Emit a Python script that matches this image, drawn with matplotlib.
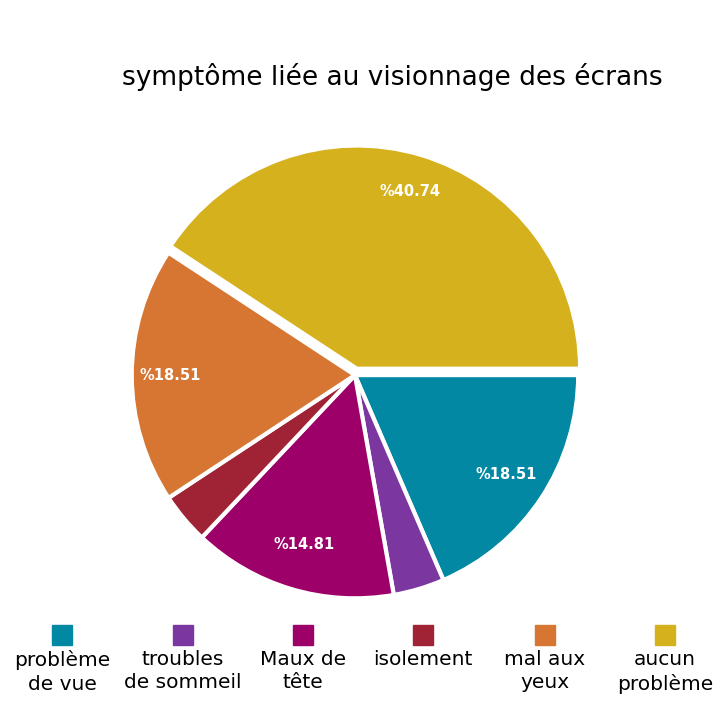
import matplotlib
matplotlib.use("Agg")
import matplotlib.pyplot as plt
from matplotlib.patches import Rectangle
import numpy as np

plt.rcParams['font.family'] = ['DejaVu Sans']

categories = ["problème\nde vue", "troubles\nde sommeil", "Maux de\ntête",
              "isolement", "mal aux\nyeux", "aucun\nproblème"]
values = [18.51, 3.70, 14.81, 3.70, 18.51, 40.74]
pct_labels = ["%18.51", "", "%14.81", "", "%18.51", "%40.74"]
colors = ["#0288A3", "#7B36A0", "#9D0068", "#A02235", "#D67632", "#D6B11E"]
explode = [0, 0, 0, 0, 0, 0.03]

fig = plt.figure(figsize=(7.2, 7.2), dpi=100)
ax = fig.add_axes([0.493 - 0.31, 0.479 - 0.31, 0.62, 0.62])

wedges, texts = ax.pie(values, colors=colors, startangle=0, counterclock=False,
                       explode=explode,
                       wedgeprops=dict(edgecolor='white', linewidth=3))

# percent labels, only on the big slices
for w, lab, dist in zip(wedges, pct_labels, [0.81, 0, 0.79, 0, 0.83, 0.83]):
    if not lab:
        continue
    ang = np.deg2rad((w.theta1 + w.theta2) / 2)
    cx, cy = w.center
    ax.text(cx + dist * np.cos(ang), cy + dist * np.sin(ang), lab,
            color='white', fontsize=10.5, fontweight='bold',
            ha='center', va='center')

ax.set_xlim(-1.0, 1.0)
ax.set_ylim(-1.0, 1.0)
ax.set_aspect('equal')
ax.axis('off')

fig.text(0.545, 0.893, "symptôme liée au visionnage des écrans",
         ha='center', va='center', fontsize=19)

# legend: square above label
xs = [62, 183, 303, 423, 545, 665]
for x, lab, c in zip(xs, categories, colors):
    fig.add_artist(Rectangle(((x - 10) / 720, 1 - 645 / 720), 20 / 720, 20 / 720,
                             color=c, transform=fig.transFigure))
    fig.text(x / 720, 1 - 650 / 720, lab, ha='center', va='top',
             fontsize=14.5, linespacing=1.3)

fig.savefig("out.png")
